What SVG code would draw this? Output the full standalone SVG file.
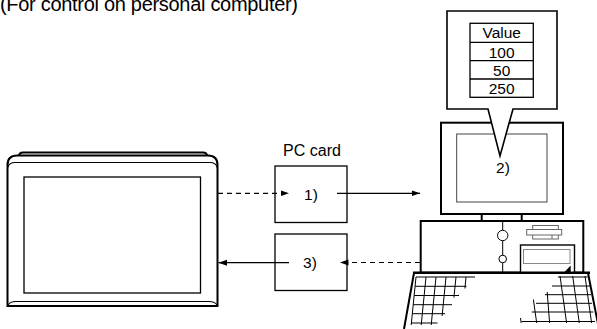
<svg xmlns="http://www.w3.org/2000/svg" width="597" height="329" viewBox="0 0 597 329">
  <defs>
    <marker id="arrow" markerUnits="userSpaceOnUse" markerWidth="9" markerHeight="7" refX="8.5" refY="3.5" orient="auto">
      <path d="M0,0.5 L8.5,3.5 L0,6.5 Z" fill="#000"/>
    </marker>
    <style>
      .t { font-family: "Liberation Sans", Arial, sans-serif; font-size: 15.5px; fill: #000; }
      .thick { fill: none; stroke: #000; stroke-width: 2; }
      .thin { fill: none; stroke: #000; stroke-width: 1.2; }
      .box { fill: #fff; stroke: #000; stroke-width: 1.3; }
      .grey { fill: #fff; stroke: #666; stroke-width: 1; }
      .key { fill: none; stroke: #000; stroke-width: 1; }
      .conn { fill: none; stroke: #000; stroke-width: 1.2; }
      .dash { stroke-dasharray: 5 4; }
    </style>
  </defs>

  <!-- heading -->
  <text id="title" class="t" x="0" y="10.5" style="font-size:20px; letter-spacing:-0.3px">(For control on personal computer)</text>

  <!-- operator panel -->
  <g id="got-panel">
    <path class="thick" d="M19,156 Q19,152.5 23,152.5 L203,152.5 Q207,152.5 207,156"/>
    <path d="M7.5,306 L7.5,165 Q7.5,155.5 17,155.5 L208,155.5 Q217.5,155.5 217.5,165 L217.5,306 Z" fill="#fff" stroke="#000" stroke-width="2"/>
    <path class="thin" d="M7.5,168 Q9,162.5 15,162.5 L210,162.5 Q216,162.5 217.5,168"/>
    <path class="thin" d="M8,305 Q10,301.5 16,301.5 L209,301.5 Q215,301.5 217,305"/>
    <rect x="24" y="177" width="176.5" height="116" fill="none" stroke="#000" stroke-width="1.3"/>
  </g>

  <!-- PC card, step 1 -->
  <g id="pc-card-1">
    <text class="t" x="312" y="156" text-anchor="middle" style="font-size:16px">PC card</text>
    <rect class="box" x="275" y="166" width="72" height="56.5"/>
    <text class="t" x="311" y="199.5" text-anchor="middle">1)</text>
  </g>

  <!-- PC card, step 3 -->
  <g id="pc-card-3">
    <rect class="box" x="275" y="234" width="72" height="56.5"/>
    <text class="t" x="310" y="267.5" text-anchor="middle">3)</text>
  </g>

  <!-- personal computer -->
  <g id="personal-computer">
    <!-- monitor -->
    <rect x="441" y="122.7" width="122" height="91.3" fill="#fff" stroke="#000" stroke-width="2"/>
    <rect x="456.7" y="134" width="90.3" height="68" fill="none" stroke="#444" stroke-width="1"/>
    <text class="t" x="503" y="173" text-anchor="middle">2)</text>
    <line class="thick" x1="481.7" y1="214" x2="481.7" y2="221"/>
    <line class="thick" x1="521.7" y1="214" x2="521.7" y2="221"/>
    <!-- system unit -->
    <rect x="420.7" y="221" width="162.6" height="51.7" fill="#fff" stroke="#000" stroke-width="2"/>
    <line x1="502.7" y1="221" x2="502.7" y2="272.7" stroke="#000" stroke-width="1"/>
    <circle cx="502.7" cy="235.5" r="5.2" fill="#fff" stroke="#000" stroke-width="1"/>
    <circle cx="502.7" cy="259" r="3.8" fill="#fff" stroke="#000" stroke-width="1"/>
    <!-- disk drive -->
    <rect class="grey" x="532.7" y="225.5" width="25.6" height="5"/>
    <rect class="grey" x="532.7" y="234.5" width="25.6" height="4.5"/>
    <rect class="grey" x="526.7" y="229.5" width="35" height="5.5"/>
    <line x1="552" y1="235" x2="552" y2="239" stroke="#666" stroke-width="1"/>
    <!-- card slot -->
    <rect x="520.5" y="245" width="54" height="27.7" fill="#fff" stroke="#000" stroke-width="1.4"/>
    <rect x="523.5" y="249.5" width="46.5" height="14" fill="none" stroke="#888" stroke-width="1"/>
    <path d="M570.7,265.5 L570.7,272 L564.5,272 Z" fill="#000"/>
    <!-- keyboard -->
    <line x1="413" y1="272.7" x2="590" y2="272.7" stroke="#000" stroke-width="2.5"/>
    <line class="thick" x1="414" y1="273" x2="404" y2="329"/>
    <line class="thick" x1="588" y1="273" x2="599" y2="329"/>
    <!-- left key grid -->
    <g class="key">
      <line x1="416" y1="277" x2="475" y2="277"/>
      <line x1="415.1" y1="286.3" x2="466.5" y2="286.3"/>
      <line x1="414.2" y1="295.5" x2="459" y2="295.5"/>
      <line x1="413.2" y1="304.7" x2="452" y2="304.7"/>
      <line x1="412.3" y1="313.7" x2="445" y2="313.7"/>
      <line x1="411.4" y1="323" x2="437.5" y2="323"/>
      <line x1="416" y1="277" x2="411.2" y2="325"/>
      <line x1="426" y1="277" x2="421.2" y2="325"/>
      <line x1="436" y1="277" x2="431.2" y2="325"/>
      <line x1="446" y1="277" x2="442.1" y2="316"/>
      <line x1="456" y1="277" x2="453.9" y2="297.5"/>
      <line x1="466" y1="277" x2="464.9" y2="288.5"/>
    </g>
    <!-- right key grid -->
    <g class="key">
      <line x1="558" y1="277" x2="587.7" y2="277"/>
      <line x1="552" y1="286" x2="590" y2="286"/>
      <line x1="545" y1="294.7" x2="591" y2="294.7"/>
      <line x1="536" y1="303.3" x2="592" y2="303.3"/>
      <line x1="531.7" y1="312" x2="593.3" y2="312"/>
      <line x1="521.7" y1="321.5" x2="595" y2="321.5"/>
      <line x1="520.5" y1="318" x2="521.2" y2="323"/>
      <line x1="533.4" y1="299.5" x2="536.7" y2="323"/>
      <line x1="547.2" y1="292" x2="549.6" y2="323"/>
      <line x1="560" y1="276" x2="566.6" y2="323"/>
      <line x1="572.7" y1="276" x2="579.3" y2="323"/>
      <line x1="585" y1="276" x2="591.6" y2="323"/>
    </g>
  </g>

  <!-- speech balloon with the value table -->
  <g id="value-callout">
    <path d="M447,11 L557,11 L557,109 L513,109 L500,156 L488,109 L447,109 Z" fill="#fff" stroke="#000" stroke-width="1.6"/>
    <rect x="470" y="23.3" width="63.3" height="74" fill="#fff" stroke="#000" stroke-width="1.3"/>
    <line x1="470" y1="42.3" x2="533.3" y2="42.3" stroke="#000" stroke-width="1.3"/>
    <line x1="470" y1="60.7" x2="533.3" y2="60.7" stroke="#000" stroke-width="1.3"/>
    <line x1="470" y1="79" x2="533.3" y2="79" stroke="#000" stroke-width="1.3"/>
    <text class="t" x="501.7" y="37.7" text-anchor="middle">Value</text>
    <text class="t" x="501.7" y="57.5" text-anchor="middle">100</text>
    <text class="t" x="501.7" y="75.5" text-anchor="middle">50</text>
    <text class="t" x="501.7" y="94" text-anchor="middle">250</text>
  </g>

  <!-- data flow -->
  <g id="connectors">
    <path class="conn dash" d="M218,193.3 L289,193.3" marker-end="url(#arrow)"/>
    <path class="conn" d="M337,193.3 L420,193.3" marker-end="url(#arrow)"/>
    <path class="conn dash" d="M420,262.5 L340,262.5" marker-end="url(#arrow)"/>
    <path class="conn" d="M289,262.7 L218.5,262.7" marker-end="url(#arrow)"/>
  </g>
</svg>
